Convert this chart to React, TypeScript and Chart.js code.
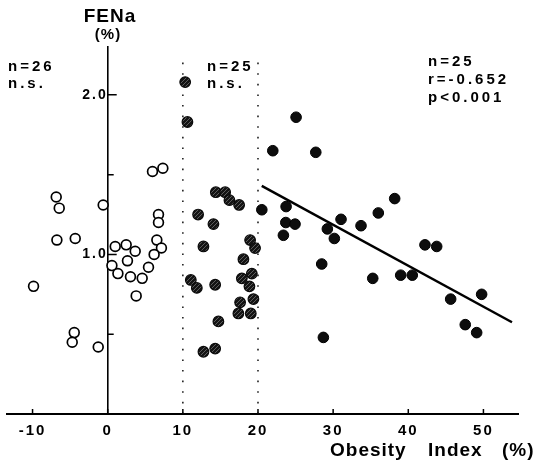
import { useEffect, useRef } from 'react';
import { Chart, registerables } from 'chart.js';
Chart.register(...registerables);

// Group A (open circles, obesity index < 10)
const A_X = [5.96, 7.34, -6.85, -6.45, -0.6, 6.76, 6.76, -6.76, -4.32, 6.54, 1.0, 2.46, 3.66, 7.15, 6.18, 2.63, 0.56, 1.36, 5.43, 3.03, 4.59, -9.87, 3.79, -4.45, -4.72, -1.26];
const A_Y = [1.52, 1.54, 1.36, 1.29, 1.31, 1.25, 1.2, 1.09, 1.1, 1.09, 1.05, 1.06, 1.02, 1.04, 1.0, 0.96, 0.93, 0.88, 0.92, 0.86, 0.85, 0.8, 0.74, 0.51, 0.45, 0.42];
// Group B (hatched, 10-20)
const B_X = [10.31, 10.61, 14.39, 15.63, 16.2, 17.49, 12.03, 14.07, 18.95, 19.61, 12.74, 18.06, 19.18, 17.85, 18.86, 11.06, 11.86, 14.3, 17.62, 19.39, 17.39, 19.04, 14.73, 12.74, 14.3];
const B_Y = [2.08, 1.83, 1.39, 1.39, 1.34, 1.31, 1.25, 1.19, 1.09, 1.04, 1.05, 0.97, 0.88, 0.85, 0.8, 0.84, 0.79, 0.81, 0.7, 0.72, 0.63, 0.63, 0.58, 0.39, 0.41];
// Group C (black, > 20)
const C_X = [25.07, 21.97, 27.69, 20.51, 23.74, 23.7, 24.93, 23.38, 31.05, 29.23, 30.16, 33.71, 36.01, 28.48, 35.27, 28.7, 38.19, 42.22, 43.78, 38.99, 40.53, 45.64, 49.76, 47.58, 49.1];
const C_Y = [1.86, 1.65, 1.64, 1.28, 1.3, 1.2, 1.19, 1.12, 1.22, 1.16, 1.1, 1.18, 1.26, 0.94, 0.85, 0.48, 1.35, 1.06, 1.05, 0.87, 0.87, 0.72, 0.75, 0.56, 0.51];
// Regression line
const REG_X = [20.5, 53.8];
const REG_Y = [1.43, 0.575];
// Dotted dividers
const DIVIDER_X = [10, 20];
const DIVIDER_Y = [0, 2.25];

const X_TICKS = [-10, 0, 10, 20, 30, 40, 50];
const X_TICK_LABELS = ['-10', '0', '10', '20', '30', '40', '50'];
const Y_TICKS = [0.5, 1.0, 1.5, 2.0];
const Y_TICK_LABELS = ['', '1.0', '', '2.0'];

const Y_TITLE = ['FENa', '(%)'];
const X_TITLE = ['Obesity', 'Index', '(%)'];
const NOTE_A = ['n=26', 'n.s.'];
const NOTE_B = ['n=25', 'n.s.'];
const NOTE_C = ['n=25', 'r=-0.652', 'p<0.001'];

const FONT = '"Liberation Sans", Arial, Helvetica, sans-serif';

function pts(xs: number[], ys: number[]) {
  return xs.map((x, i) => ({ x, y: ys[i] }));
}

function hatch(): CanvasPattern | string {
  const c = document.createElement('canvas');
  c.width = 4;
  c.height = 4;
  const g = c.getContext('2d');
  if (!g) return '#333';
  g.fillStyle = '#141414';
  g.fillRect(0, 0, 4, 4);
  g.strokeStyle = '#5c5c5c';
  g.lineWidth = 1;
  g.beginPath();
  g.moveTo(0, 4);
  g.lineTo(4, 0);
  g.stroke();
  const p = g.createPattern(c, 'repeat');
  return p || '#333';
}

export default function App() {
  const ref = useRef<HTMLCanvasElement | null>(null);
  useEffect(() => {
    if (!ref.current) return;
    const decor = {
      id: 'decor',
      beforeDraw(chart: any) {
        chart.ctx.letterSpacing = '2px';
      },
      afterDraw(chart: any) {
        const ctx = chart.ctx as CanvasRenderingContext2D;
        const xs = chart.scales.x;
        const ys = chart.scales.y;
        const axisX = xs.getPixelForValue(0);
        const bottom = ys.getPixelForValue(0);
        ctx.save();
        ctx.strokeStyle = '#000';
        ctx.lineWidth = 1.5;
        ctx.beginPath();
        X_TICKS.forEach((v) => {
          const px = xs.getPixelForValue(v);
          ctx.moveTo(px, bottom);
          ctx.lineTo(px, bottom - 5);
        });
        Y_TICKS.forEach((v, i) => {
          const py = ys.getPixelForValue(v);
          ctx.moveTo(axisX, py);
          ctx.lineTo(axisX + (Y_TICK_LABELS[i] ? 9 : 6), py);
        });
        ctx.stroke();

        ctx.fillStyle = '#000';
        (ctx as any).letterSpacing = '1px';
        ctx.textAlign = 'center';
        ctx.textBaseline = 'alphabetic';
        ctx.font = `bold 19px ${FONT}`;
        ctx.fillText(Y_TITLE[0], 110, 22);
        ctx.font = `bold 15px ${FONT}`;
        ctx.fillText(Y_TITLE[1], 108, 39);

        ctx.textAlign = 'left';
        (ctx as any).letterSpacing = '3px';
        ctx.font = `bold 15px ${FONT}`;
        NOTE_A.forEach((t, i) => ctx.fillText(t, 8, 70.5 + i * 17));
        NOTE_B.forEach((t, i) => ctx.fillText(t, 207, 70.5 + i * 17));
        NOTE_C.forEach((t, i) => ctx.fillText(t, 428, 66 + i * 18));

        (ctx as any).letterSpacing = '1px';
        ctx.font = `bold 19px ${FONT}`;
        const starts = [330, 428, 502];
        X_TITLE.forEach((t, i) => ctx.fillText(t, starts[i], 456));
        ctx.restore();
      },
    };

    const chart = new Chart(ref.current, {
      type: 'scatter',
      data: {
        datasets: [
          {
            data: pts(A_X, A_Y),
            backgroundColor: '#ffffff',
            borderColor: '#000000',
            borderWidth: 1.7,
            pointRadius: 4.9,
            order: 1,
          },
          {
            data: pts(B_X, B_Y),
            backgroundColor: hatch() as any,
            borderColor: '#0a0a0a',
            borderWidth: 1.2,
            pointRadius: 5.3,
            order: 1,
          },
          {
            data: pts(C_X, C_Y),
            backgroundColor: '#0d0d0d',
            borderColor: '#000000',
            borderWidth: 1,
            pointRadius: 5.3,
            order: 1,
          },
          {
            data: pts(REG_X, REG_Y),
            showLine: true,
            borderColor: '#000000',
            borderWidth: 2.5,
            pointRadius: 0,
            order: 2,
          },
          ...DIVIDER_X.map((dx) => ({
            data: DIVIDER_Y.map((y) => ({ x: dx, y })),
            showLine: true,
            borderColor: '#222222',
            borderWidth: 1.6,
            borderDash: [1.6, 9],
            pointRadius: 0,
            order: 5,
          })),
        ],
      },
      options: {
        animation: false,
        responsive: false,
        devicePixelRatio: 1,
        layout: { padding: { left: 7, right: 17, top: 47, bottom: 13 } },
        plugins: { legend: { display: false }, tooltip: { enabled: false } },
        scales: {
          x: {
            type: 'linear',
            min: -13.4,
            max: 54.6,
            afterBuildTicks: (axis: any) => {
              axis.ticks = X_TICKS.map((value) => ({ value }));
            },
            ticks: {
              callback: (v: any) => {
                const i = X_TICKS.indexOf(Number(v));
                return i >= 0 ? X_TICK_LABELS[i] : '';
              },
              font: { family: FONT, size: 15, weight: 'bold' },
              color: '#000',
              padding: 8,
              maxRotation: 0,
              autoSkip: false,
            },
            grid: { drawOnChartArea: false, drawTicks: false },
            border: { display: true, color: '#000', width: 2 },
          },
          y: {
            type: 'linear',
            position: { x: 0 } as any,
            min: 0,
            max: 2.3,
            afterBuildTicks: (axis: any) => {
              axis.ticks = Y_TICKS.map((value) => ({ value }));
            },
            ticks: {
              callback: (v: any) => {
                const i = Y_TICKS.indexOf(Number(v));
                return i >= 0 ? Y_TICK_LABELS[i] : '';
              },
              font: { family: FONT, size: 14, weight: 'bold' },
              color: '#000',
              padding: 5,
              autoSkip: false,
            },
            grid: { drawOnChartArea: false, drawTicks: false },
            border: { display: true, color: '#000', width: 1.6 },
          },
        },
      },
      plugins: [decor],
    } as any);
    return () => chart.destroy();
  }, []);

  return (
    <div style={{ position: 'absolute', left: 0, top: 0, width: 535, height: 461, background: '#fff' }}>
      <canvas ref={ref} width={535} height={461} />
    </div>
  );
}
